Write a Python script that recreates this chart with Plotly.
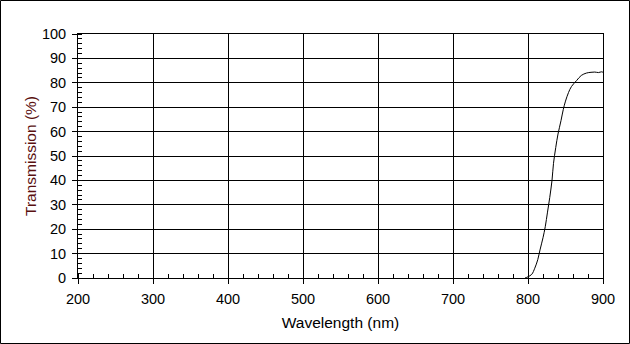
import plotly.graph_objects as go

wavelength = [796, 800, 805, 809, 813, 816, 820, 823, 826, 829, 832, 834, 837, 840, 844, 847, 850, 854, 858, 865, 871, 878, 884, 889, 894, 898, 900]
transmission = [0.0, 0.5, 1.5, 4.0, 7.5, 11.5, 16.5, 21.0, 27.0, 33.0, 40.0, 47.0, 53.5, 59.0, 64.5, 69.0, 72.5, 76.0, 78.5, 81.0, 83.0, 84.0, 84.3, 84.4, 84.2, 84.5, 84.3]

x_ticks = [200, 300, 400, 500, 600, 700, 800, 900]
y_ticks = [0, 10, 20, 30, 40, 50, 60, 70, 80, 90, 100]

W, H = 630, 344
L, R, T, B = 78, 27, 34, 66
pw, ph = W - L - R, H - T - B

fig = go.Figure()
fig.add_trace(go.Scatter(x=wavelength, y=transmission, mode="lines",
                         line=dict(color="black", width=1), line_shape="spline",
                         hoverinfo="skip", showlegend=False))

fam = "Liberation Sans, Arial, sans-serif"
tfont = dict(family=fam, size=14.5, color="black")
xtitle_font = dict(family=fam, size=15.5, color="black")
ytitle_font = dict(family=fam, size=15.5, color="#5a1010")

fig.update_layout(
    width=W, height=H,
    margin=dict(l=L, r=R, t=T, b=B),
    paper_bgcolor="white", plot_bgcolor="white",
    font=tfont,
    xaxis=dict(range=[200, 900], tickvals=x_ticks, ticks="outside", ticklen=5,
               tickcolor="black", showline=True, linecolor="black", linewidth=1,
               mirror=True, showgrid=True, gridcolor="black", gridwidth=1,
               zeroline=False, ticklabelstandoff=3,
               minor=dict(dtick=20, ticks="inside", ticklen=4, tickcolor="black", showgrid=False),
               title=dict(text="Wavelength (nm)", font=xtitle_font, standoff=10),
               tickfont=tfont),
    yaxis=dict(range=[0, 100], tickvals=y_ticks, ticks="outside", ticklen=5,
               tickcolor="black", showline=True, linecolor="black", linewidth=1,
               mirror=True, showgrid=True, gridcolor="black", gridwidth=1,
               zeroline=False, ticklabelstandoff=3,
               minor=dict(dtick=2, ticks="inside", ticklen=4, tickcolor="black", showgrid=False),
               title=dict(text="Transmission (%)", font=ytitle_font, standoff=1),
               tickfont=tfont),
)

fig.add_shape(type="rect", xref="paper", yref="paper",
              x0=(-L + 0.5) / pw, x1=(pw + R - 0.5) / pw,
              y0=(-B + 0.5) / ph, y1=(ph + T - 0.5) / ph,
              line=dict(color="black", width=1), layer="above")

fig.write_html("out.html", config={"displayModeBar": False},
               post_script="document.body.style.margin='0';document.body.style.padding='0';")
